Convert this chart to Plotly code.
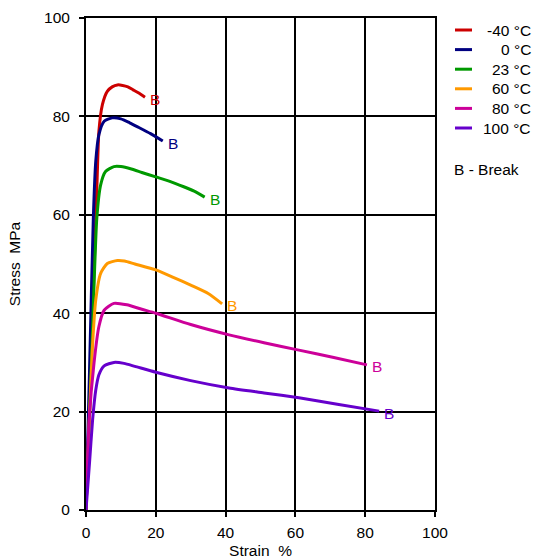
import plotly.graph_objects as go

# Stress-strain curves at several test temperatures (strain %, stress MPa)
temps = ["-40 °C", "0 °C", "23 °C", "60 °C", "80 °C", "100 °C"]
colors = ["#cc0000", "#000080", "#009900", "#ff9900", "#cc0099", "#6600cc"]

strain_m40 = [0, 1.6, 2.7, 3.2, 3.7, 4.7, 6.1, 7.5, 9.0, 10.5, 12, 13.5, 15, 16.9]
stress_m40 = [0, 34, 57, 67.5, 77, 82.4, 85.1, 86.0, 86.4, 86.3, 86.0, 85.4, 84.8, 83.9]

strain_0 = [0, 1.0, 2.1, 2.8, 3.7, 5.2, 7.5, 10, 12.5, 15, 18.5, 22]
stress_0 = [0, 28, 59.3, 70.9, 76.3, 79.0, 79.7, 79.5, 78.7, 77.8, 76.5, 75.0]

strain_23 = [0, 1.5, 3.1, 4.2, 5.6, 8.0, 10, 13, 16, 20, 24, 28, 31, 34]
stress_23 = [0, 29, 59.3, 66.1, 68.8, 69.8, 69.8, 69.3, 68.6, 67.7, 66.8, 65.7, 64.8, 63.6]

strain_60 = [0, 0.9, 1.8, 2.8, 4.2, 6.1, 9.0, 11, 14, 20, 25, 30, 35, 39]
stress_60 = [0, 17, 32.5, 42.7, 48.1, 50.1, 50.7, 50.6, 50.0, 48.8, 47.3, 45.7, 44.0, 41.9]

strain_80 = [0, 0.9, 2.3, 3.7, 5.2, 8.0, 11.7, 16, 20, 30, 41, 51, 61, 71, 80.5]
stress_80 = [0, 18.3, 29.9, 37.3, 40.6, 42.0, 41.7, 40.8, 40.0, 37.7, 35.6, 34.0, 32.5, 31.0, 29.5]

strain_100 = [0, 1.0, 1.9, 2.8, 3.7, 5.2, 8.0, 10.9, 14, 20, 30, 41, 51, 61, 72, 84]
stress_100 = [0, 9.5, 18.4, 24.4, 27.5, 29.3, 30.0, 29.8, 29.2, 28.0, 26.3, 24.8, 23.8, 22.8, 21.5, 20.1]

strains = [strain_m40, strain_0, strain_23, strain_60, strain_80, strain_100]
stresses = [stress_m40, stress_0, stress_23, stress_60, stress_80, stress_100]

x_ticks = [0, 20, 40, 60, 80, 100]
y_ticks = [0, 20, 40, 60, 80, 100]

FONT = "Liberation Sans, Arial, sans-serif"
FS = 15.5

fig = go.Figure()
for name, col, xs, ys in zip(temps, colors, strains, stresses):
    fig.add_trace(go.Scatter(
        x=xs, y=ys, mode="lines", name=name,
        line=dict(color=col, width=3, shape="spline", smoothing=0.6),
        showlegend=False, hoverinfo="skip", cliponaxis=False,
    ))
    # break marker label at the end of each curve
    fig.add_annotation(
        x=xs[-1], y=ys[-1], text="B", showarrow=False,
        xanchor="left", yanchor="middle", xshift=3, yshift=-2,
        font=dict(family=FONT, size=FS, color=col),
    )

# legend drawn in paper space on the right
legend_y0 = 30
legend_dy = 19.6
plot_top, plot_h = 18, 492
for i, (name, col) in enumerate(zip(temps, colors)):
    py = legend_y0 + i * legend_dy
    yp = 1 - (py - plot_top) / plot_h
    fig.add_shape(type="line", xref="paper", yref="paper",
                  x0=(455 - 86) / 349, x1=(472 - 86) / 349, y0=yp, y1=yp,
                  line=dict(color=col, width=3))
    fig.add_annotation(xref="paper", yref="paper",
                       x=(533 - 86) / 349, y=yp, text=name, showarrow=False,
                       xanchor="right", yanchor="middle",
                       font=dict(family=FONT, size=FS, color="black"))

fig.add_annotation(xref="paper", yref="paper",
                   x=(452 - 86) / 349, y=1 - (169 - plot_top) / plot_h,
                   text="B - Break", showarrow=False,
                   xanchor="left", yanchor="middle",
                   font=dict(family=FONT, size=FS, color="black"))

axis_common = dict(
    showgrid=True, gridcolor="black", gridwidth=2,
    showline=True, linecolor="black", linewidth=2, mirror=True,
    ticks="outside", ticklen=5, tickwidth=2, tickcolor="black",
    zeroline=False, automargin=False,
    tickfont=dict(family=FONT, size=FS, color="black"),
)

fig.update_layout(
    width=533, height=559,
    margin=dict(l=86, r=98, t=18, b=49),
    plot_bgcolor="white", paper_bgcolor="white",
    font=dict(family=FONT, size=FS, color="black"),
    xaxis=dict(range=[0, 100], tickvals=x_ticks, ticklabelstandoff=2,
               title=dict(text="Strain  %", standoff=6,
                          font=dict(family=FONT, size=FS)),
               **axis_common),
    yaxis=dict(range=[0, 100], tickvals=y_ticks, ticklabelstandoff=6,
               title=dict(text="Stress  MPa", standoff=20,
                          font=dict(family=FONT, size=FS)),
               **axis_common),
)

fig.write_html("out.html")
